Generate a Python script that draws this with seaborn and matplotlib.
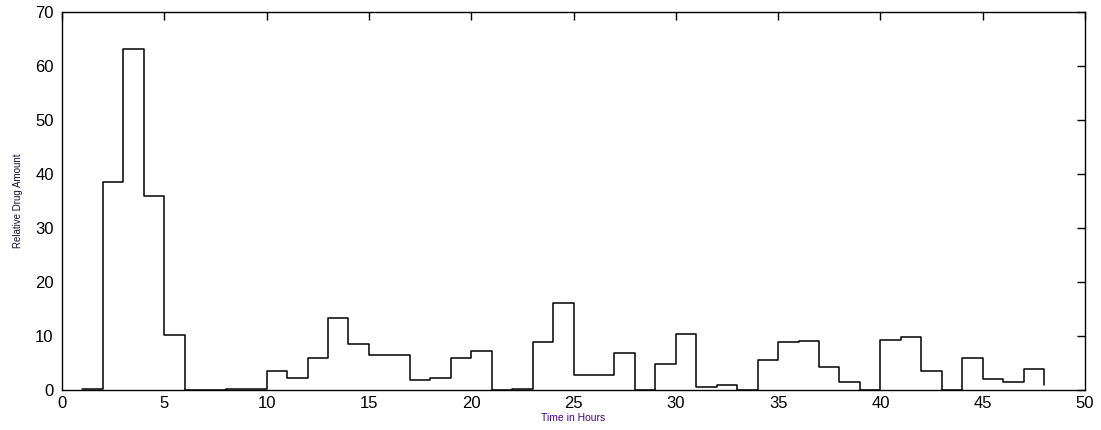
import matplotlib
matplotlib.use("Agg")
import matplotlib.pyplot as plt
import seaborn as sns
import pandas as pd

hours = list(range(1, 49))
amount = [0.2, 38.6, 63.1, 36.0, 10.1, 0.0, 0.0, 0.2, 0.2, 3.5,
          2.2, 6.0, 13.3, 8.5, 6.4, 6.4, 1.9, 2.3, 6.0, 7.2,
          0.0, 0.2, 8.9, 16.2, 2.7, 2.7, 6.8, 0.0, 4.9, 10.3,
          0.5, 0.9, 0.0, 5.5, 8.8, 9.0, 4.2, 1.4, 0.0, 9.2,
          9.75, 3.6, 0.0, 6.0, 2.0, 1.4, 3.8, 1.0]

xticks = list(range(0, 51, 5))
yticks = list(range(0, 71, 10))

sns.set_style("white")
plt.rcParams['font.family'] = ['Liberation Sans', 'DejaVu Sans']

df = pd.DataFrame({"hours": hours, "amount": amount})

fig = plt.figure(figsize=(11.01, 4.30), dpi=100)
ax = fig.add_axes([62/1101, 1 - 390/430, (1085-62)/1101, (390-12)/430])
sns.lineplot(data=df, x="hours", y="amount", drawstyle="steps-post",
             color="black", linewidth=1.1, ax=ax, estimator=None, zorder=1)

ax.set_xlim(0, 50)
ax.set_ylim(0, 70)
ax.set_xticks(xticks)
ax.set_yticks(yticks)
ax.tick_params(direction="in", length=6, width=1.0, top=True, right=True,
               labelsize=12, colors="black")
ax.tick_params(axis="y", pad=6)
ax.tick_params(axis="x", pad=4)
for s in ax.spines.values():
    s.set_visible(True)
    s.set_color("black")
    s.set_linewidth(1.0)
    s.set_zorder(3)
ax.set_xlabel("Time in Hours", fontsize=7.5, color="#4b0082", labelpad=2)
ax.set_ylabel("Relative Drug Amount", fontsize=7, color="#101030", labelpad=9)

fig.savefig("out.png", dpi=100)
